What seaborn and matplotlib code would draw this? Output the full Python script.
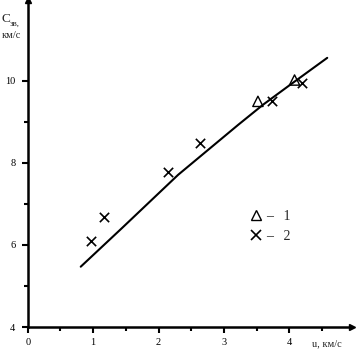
import matplotlib
matplotlib.use("Agg")
import matplotlib.pyplot as plt
import numpy as np
import pandas as pd
import seaborn as sns

# curve
line_u = [0.81, 1.44, 2.30, 3.22, 3.60, 4.01, 4.58]
line_c = [5.47, 6.41, 7.71, 8.93, 9.42, 9.90, 10.56]

# series 1 (triangles)
tri_u = [3.52, 4.08]
tri_c = [9.5, 10.02]

# series 2 (crosses)
cross_u = [0.96, 1.16, 2.15, 2.63, 3.73, 4.19]
cross_c = [6.09, 6.68, 7.79, 8.48, 9.5, 9.94]

x_ticks = [0, 1, 2, 3, 4]
y_ticks = [4, 6, 8, 10]

sns.set_style("ticks")
plt.rcParams['font.family'] = ['Liberation Serif', 'DejaVu Serif']

fig = plt.figure(figsize=(3.56, 3.49), dpi=100)
ax = fig.add_axes([0.078, 0.063, 0.911, 0.937])

sns.lineplot(x=line_u, y=line_c, ax=ax, color='black', linewidth=1.5, sort=False)
sns.scatterplot(x=tri_u, y=tri_c, ax=ax, marker='^', s=55, facecolor='none',
                edgecolor='black', linewidth=1.0)
sns.scatterplot(x=cross_u, y=cross_c, ax=ax, marker='x', s=45, color='black',
                linewidth=1.2)

ax.set_xlim(0, 4.96)
ax.set_ylim(4, 11.97)
ax.set_xticks(x_ticks)
ax.set_xticks([0.5, 1.5, 2.5, 3.5, 4.5], minor=True)
ax.set_yticks(y_ticks)
ax.set_yticks([5, 7, 9], minor=True)
ax.set_xticklabels([str(v) for v in x_ticks])
ax.set_yticklabels([str(v) for v in y_ticks])
ax.tick_params(axis='both', which='major', length=4, width=1.5, labelsize=7.5,
               color='black', labelcolor='black')
ax.tick_params(axis='both', which='minor', length=3, width=1.5, color='black')
ax.tick_params(axis='x', pad=4)
ax.tick_params(axis='y', pad=5)

sns.despine(ax=ax)
for side in ['left', 'bottom']:
    ax.spines[side].set_linewidth(1.8)
    ax.spines[side].set_color('black')

# arrow heads at axis ends
ax.plot(1, 0, '>k', transform=ax.transAxes, clip_on=False, markersize=4)
ax.plot(0, 1, '^k', transform=ax.transAxes, clip_on=False, markersize=4)

# legend
ax.plot([], [], '^', color='black', markerfacecolor='none', markersize=7.5,
        linestyle='none', label='–   1')
ax.plot([], [], 'x', color='black', markersize=7, markeredgewidth=1.2,
        linestyle='none', label='–   2')
h, l = ax.get_legend_handles_labels()
ax.legend(h[-2:], l[-2:], frameon=False, loc='upper left',
          bbox_to_anchor=(0.64, 0.395), fontsize=10, handletextpad=0.1,
          labelspacing=0.45, handlelength=1.2)

# axis titles
fig.text(0.003, 1 - 22 / 349, 'C', fontsize=9.5)
fig.text(0.027, 1 - 26 / 349, 'зв,', fontsize=6.5)
fig.text(0.004, 1 - 38 / 349, 'км/с', fontsize=7.5)
fig.text(0.877, 1 - 346 / 349, 'u, км/с', fontsize=7.5)

fig.savefig('out.png', dpi=100)
